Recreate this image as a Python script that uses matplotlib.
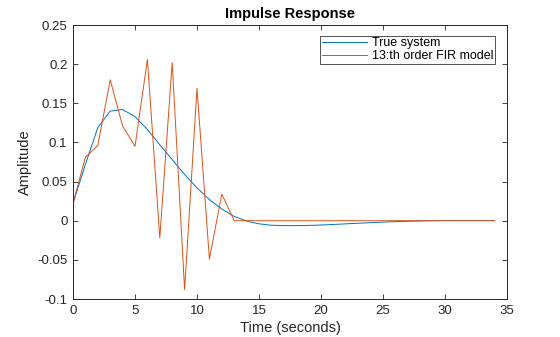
import matplotlib
matplotlib.use("Agg")
import matplotlib.pyplot as plt
import numpy as np

plt.rcParams['font.family'] = ['Liberation Sans', 'DejaVu Sans']

time = list(range(0, 35))
true_system = [0.022, 0.072, 0.119, 0.140, 0.142, 0.133, 0.1165, 0.097, 0.078, 0.059,
               0.042, 0.027, 0.015, 0.0055, -0.0004, -0.004, -0.0058, -0.0062, -0.0063, -0.006,
               -0.0055, -0.0048, -0.004, -0.0032, -0.0025, -0.0018, -0.0012, -0.0007, -0.0003, 0.0,
               0.0002, 0.0003, 0.0003, 0.0002, 0.0002]
fir_model = [0.022, 0.081, 0.096, 0.180, 0.121, 0.095, 0.206, -0.022, 0.202, -0.088,
             0.169, -0.049, 0.034, 0.0, 0.0, 0.0, 0.0, 0.0, 0.0, 0.0,
             0.0, 0.0, 0.0, 0.0, 0.0, 0.0, 0.0, 0.0, 0.0, 0.0,
             0.0, 0.0, 0.0, 0.0, 0.0]
xticks = [0, 5, 10, 15, 20, 25, 30, 35]
yticks = [-0.1, -0.05, 0, 0.05, 0.1, 0.15, 0.2, 0.25]
ytick_labels = ['-0.1', '-0.05', '0', '0.05', '0.1', '0.15', '0.2', '0.25']

dark = '#262626'
fig = plt.figure(figsize=(5.6, 3.37), dpi=100)
ax = fig.add_axes([73/560, (337-299)/337, (507-73)/560, (299-25)/337])

ax.plot(time, true_system, color='#0072BD', lw=0.7, label='True system')
ax.plot(time, fir_model, color='#D95319', lw=0.7, label='13:th order FIR model')

ax.set_xlim(0, 35)
ax.set_ylim(-0.1, 0.25)
ax.set_xticks(xticks)
ax.set_xticklabels([str(v) for v in xticks])
ax.set_yticks(yticks)
ax.set_yticklabels(ytick_labels)
ax.tick_params(direction='in', top=True, right=True, length=3.5, width=0.6,
               colors=dark, labelsize=9.5, pad=4)
for s in ax.spines.values():
    s.set_color(dark)
    s.set_linewidth(0.7)

ax.set_title('Impulse Response', fontsize=10.5, fontweight='bold', color='black', pad=5)
ax.set_xlabel('Time (seconds)', fontsize=10.5, color=dark, labelpad=3)
ax.set_ylabel('Amplitude', fontsize=10.5, color=dark, labelpad=4)

leg = ax.legend(loc='upper right', fontsize=9, frameon=True, fancybox=False,
                edgecolor=dark, bbox_to_anchor=(495/560, (337-35.5)/337),
                bbox_transform=fig.transFigure, borderaxespad=0,
                handlelength=3.6, handletextpad=0.35,
                borderpad=0.15, labelspacing=0.05)
leg.get_frame().set_linewidth(0.7)
for t in leg.get_texts():
    t.set_color('black')

fig.savefig('out.png', dpi=100)
